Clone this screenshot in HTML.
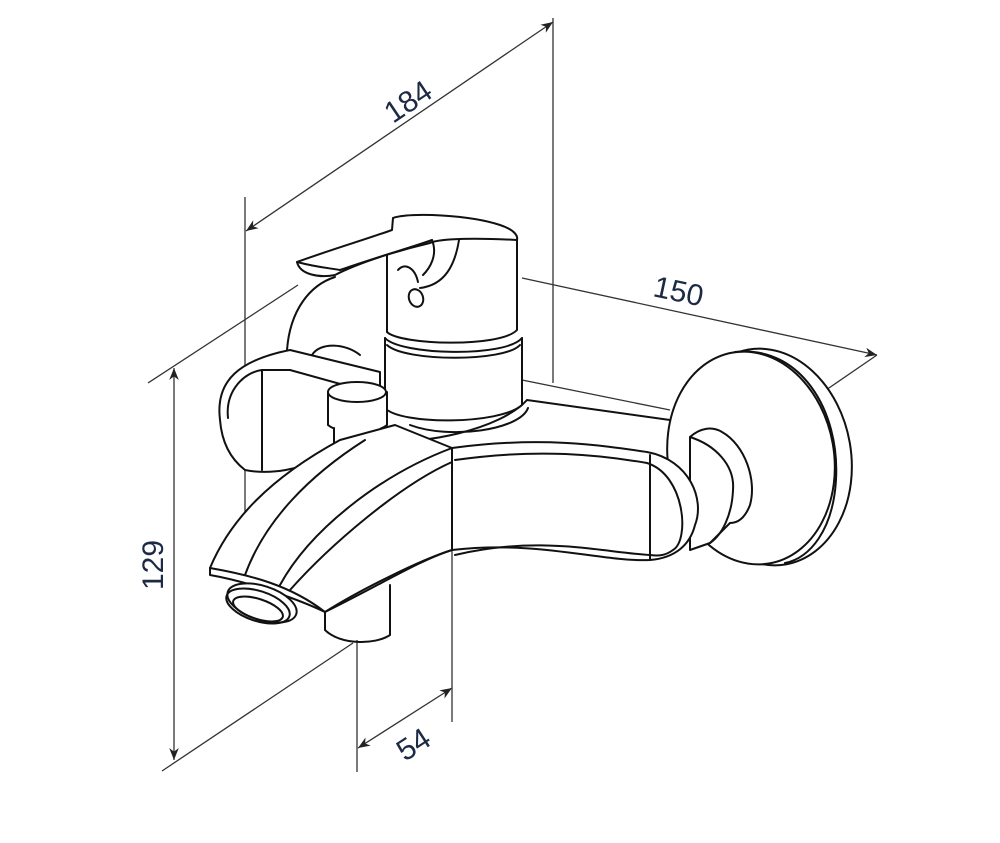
<!DOCTYPE html>
<html><head><style>html,body{margin:0;padding:0;background:#fff}svg{display:block}</style></head>
<body>
<svg width="1000" height="843" viewBox="0 0 1000 843" xmlns="http://www.w3.org/2000/svg">
<defs>
<marker id="a" viewBox="0 0 10 10" refX="10" refY="5" markerWidth="12" markerHeight="12" markerUnits="userSpaceOnUse" orient="auto-start-reverse"><path d="M0,1 L10,5 L0,9 L3,5 z" fill="#222"/></marker>
</defs>
<g stroke="#333" stroke-width="1.3" fill="none">
<line x1="246" y1="231" x2="553" y2="22" marker-start="url(#a)" marker-end="url(#a)"/>
<line x1="245" y1="197" x2="245" y2="578"/>
<line x1="553" y1="18" x2="553" y2="383"/>
<line x1="148" y1="383" x2="298" y2="285"/>
<line x1="522" y1="278" x2="877" y2="355" marker-end="url(#a)"/>
<line x1="826" y1="390" x2="877" y2="355"/>
<line x1="522" y1="380" x2="670" y2="410"/>
<line x1="174" y1="368" x2="174" y2="760" marker-start="url(#a)" marker-end="url(#a)"/>
<line x1="162" y1="771" x2="353" y2="643"/>
<line x1="358" y1="748" x2="452" y2="688" marker-start="url(#a)" marker-end="url(#a)"/>
<line x1="357" y1="640" x2="357" y2="772"/>
<line x1="452" y1="450" x2="452" y2="722"/>
</g>
<g fill="#1c2a44" font-family="Liberation Sans, sans-serif" font-size="30">
<text transform="translate(393,124) rotate(-34)">184</text>
<text transform="translate(652,296) rotate(12)">150</text>
<text transform="translate(163,590) rotate(-90)">129</text>
<text transform="translate(405,762) rotate(-33)">54</text>
</g>
<g stroke="#111" stroke-width="2" fill="none" stroke-linejoin="round" stroke-linecap="round">
<!-- rosette -->
<ellipse cx="767" cy="457" rx="84" ry="109" transform="rotate(-10 767 457)" fill="#fff"/>
<ellipse cx="751" cy="458" rx="83" ry="107" transform="rotate(-10 751 458)" fill="#fff"/>
<path d="M735,352 C800,345 840,410 836,480 C833,530 810,558 785,563"/>
<!-- connector cylinder -->
<path d="M690,437 C700,428 712,426 722,432 C745,445 757,480 750,505 C745,518 738,523 730,523 L710,543 L690,550 Z" fill="#fff"/>
<path d="M690,437 C715,445 735,465 733,490 C732,515 722,535 710,543"/>
<!-- body arm -->
<path d="M452,448 C540,436 600,445 647,452 C690,460 705,500 695,525 C690,545 675,558 650,560 C600,562 540,540 452,550 Z" fill="#fff"/>
<path d="M455,460 C540,448 600,455 647,463 C685,475 690,540 673,550 C665,556 658,556 650,555 C600,552 540,535 455,555"/>
<line x1="650" y1="455" x2="650" y2="560"/>
<!-- base plate -->
<path d="M388,440 C420,445 500,430 527,400 L670,420" fill="none"/>
<path d="M410,425 C450,440 520,430 528,408"/>
<!-- disc behind & hose -->
<path d="M287,350 C290,310 310,285 335,277"/>
<path d="M312,355 C320,342 345,343 360,355"/>
<path d="M220,420 C215,380 240,360 290,350 L380,372 L380,430 L330,455 C300,470 270,475 245,470 C232,460 222,445 220,420 Z" fill="#fff"/>
<path d="M228,418 C225,390 245,372 262,370 L290,370 L380,395"/>
<line x1="262" y1="370" x2="262" y2="470"/>
<!-- lower cylinder -->
<path d="M385,338 L385,408 C400,425 500,425 522,405 L522,338" fill="#fff"/>
<path d="M385,338 C400,355 505,358 522,338"/>
<path d="M387,345 C405,362 505,362 520,345"/>
<!-- handle -->
<path d="M387,268 L387,332 C400,345 500,348 517,330 L517,238 C480,232 420,235 387,250 Z" fill="#fff"/>
<path d="M297,262 C330,250 370,238 392,230 L393,218 C410,212 470,215 500,225 C515,230 518,236 517,240 C480,238 440,238 430,243 C400,250 360,262 335,275 C320,278 300,275 297,262 Z" fill="#fff"/>
<path d="M297,262 C320,268 330,268 340,270"/>
<path d="M340,270 C380,256 410,248 432,240"/>
<path d="M432,240 C438,255 430,268 423,275"/>
<path d="M459,240 C455,265 445,285 420,288"/>
<path d="M398,270 C405,262 415,268 418,282"/>
<ellipse cx="416" cy="298" rx="7" ry="9" transform="rotate(-20 416 298)"/>
<!-- small valve -->
<path d="M328,392 L328,425 C340,435 375,435 387,425 L387,392" fill="#fff"/>
<ellipse cx="357" cy="392" rx="29" ry="10" fill="#fff"/>
<path d="M334,428 L334,452 C342,462 375,462 382,452 L382,428" fill="#fff"/>
<path d="M341,456 L341,464 C350,470 370,470 376,464 L376,456"/>
<!-- spout -->
<path d="M210,568 C230,520 270,478 340,440 L395,425 L452,448 L452,550 C420,560 380,585 325,612 C300,600 250,582 210,575 Z" fill="#fff"/>
<path d="M245,575 C265,520 310,475 365,440"/>
<path d="M280,585 C310,530 380,475 452,448"/>
<path d="M290,590 C330,545 400,485 452,462"/>
<path d="M325,612 C360,590 420,560 452,550"/>
<path d="M210,568 C250,575 290,585 325,612"/>
<path d="M325,612 L325,630 C340,645 375,645 390,635 L390,585"/>
<!-- nozzle -->
<ellipse cx="262" cy="603" rx="36" ry="17" transform="rotate(18 262 603)" fill="#fff"/>
<ellipse cx="258" cy="606" rx="33" ry="15" transform="rotate(18 258 606)"/>
<ellipse cx="258" cy="609" rx="26" ry="10" transform="rotate(18 258 609)"/>
</g>
</svg>
</body></html>
